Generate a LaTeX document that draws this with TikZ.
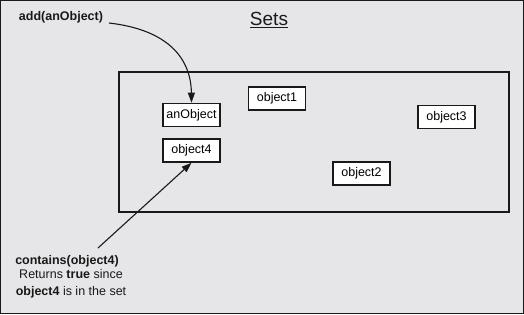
\documentclass[tikz,border=0pt]{standalone}
\usepackage{fontspec}
\setmainfont{Liberation Sans}
\usetikzlibrary{arrows.meta}
\definecolor{bg}{RGB}{230,230,233}
\definecolor{ink}{RGB}{25,25,25}
\tikzset{
  obj/.style={draw=ink, line width=1.6pt, fill=white, minimum width=57pt, minimum height=23pt, inner sep=0pt, font=\fontsize{12.5}{14}\selectfont},
  conn/.style={draw=ink, line width=1.1pt, -{Triangle[length=10pt,width=7pt]}},
  lbl/.style={font=\fontsize{12.5}{17}\selectfont, text=ink, inner sep=0pt}
}
\begin{document}
\begin{tikzpicture}[x=1pt,y=-1pt]
\path[fill=bg, draw=ink, line width=1pt] (0.5,0.5) rectangle (523.5,313.5);
\useasboundingbox (0,0) rectangle (524,314);
\draw[ink, line width=2pt] (119,72) rectangle (509,212);
\node[lbl, font=\fontsize{19}{21}\selectfont] (title) at (269,20) {\underline{Sets}};
\node[obj] (anobj) at (191.5,115) {anObject};
\node[obj] (o4) at (191.5,150.5) {object4};
\node[obj] (o1) at (277,98.5) {object1};
\node[obj] (o3) at (446.5,117) {object3};
\node[obj] (o2) at (361.5,173.5) {object2};
\node[lbl, font=\fontsize{12.5}{15}\bfseries] (add) at (61,17) {add(anObject)};
\node[lbl, font=\fontsize{12.5}{15}\bfseries] (cont) at (67,261) {contains(object4)};
\node[lbl, align=center, anchor=north] (ret) at (71,269) {Returns \textbf{true} since\\\textbf{object4} is in the set};
\coordinate (addend) at (109,23);
\coordinate (contend) at (98,248);
\draw[conn] (addend) .. controls (170,30) and (191,60) .. (anobj.north);
\draw[conn] (contend) -- (o4.south);
\end{tikzpicture}
\end{document}
